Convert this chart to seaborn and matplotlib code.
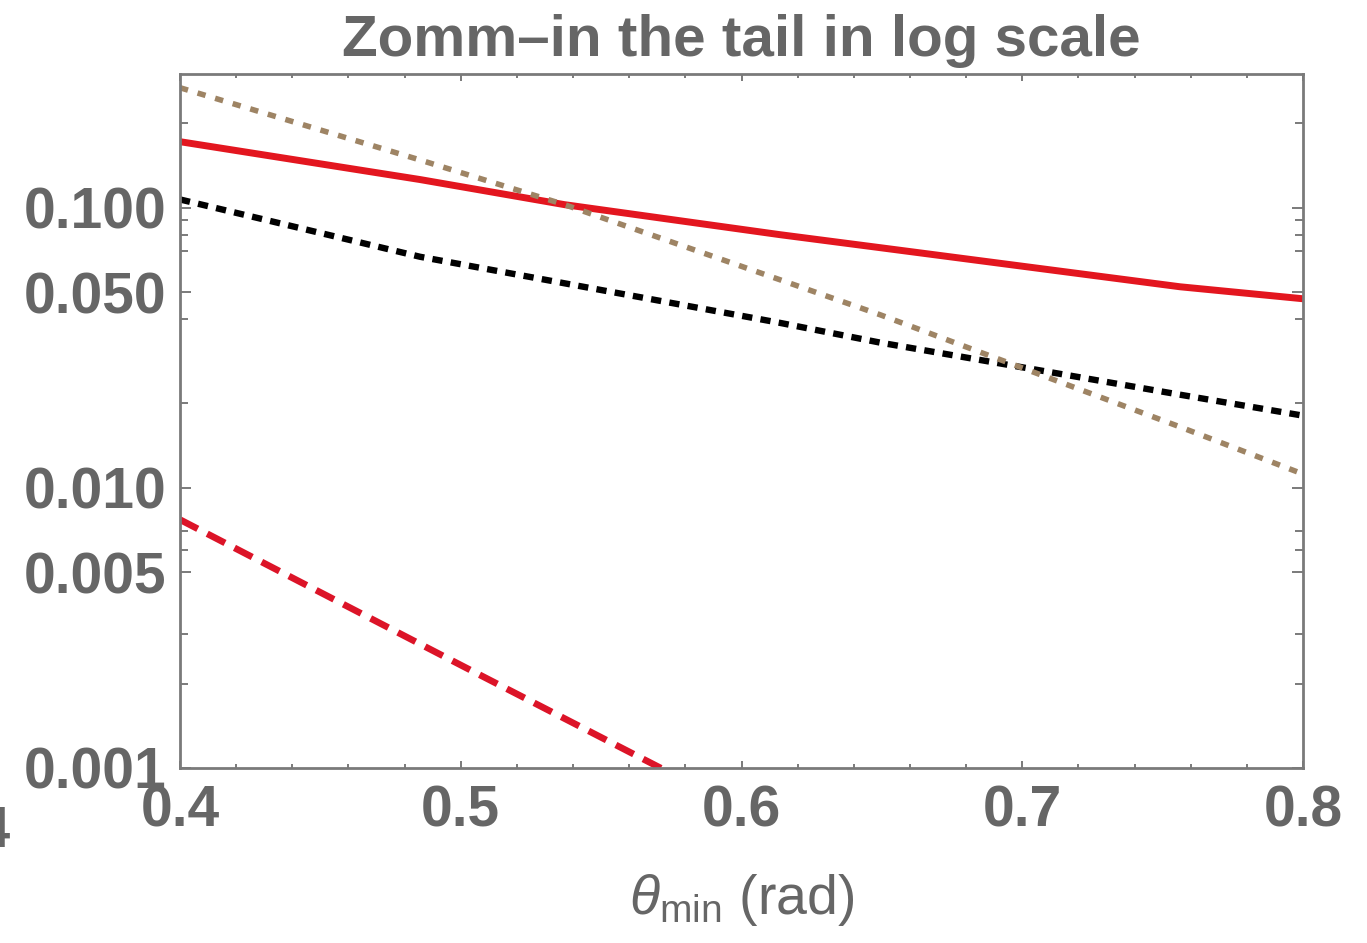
import numpy as np
import pandas as pd
import matplotlib
matplotlib.use("Agg")
import matplotlib.pyplot as plt
import matplotlib.ticker as mticker
import seaborn as sns

# ---- data ----
theta_solid_red = [0.400, 0.4855, 0.537, 0.6137, 0.6493, 0.7562, 0.800]
value_solid_red = [0.172, 0.126, 0.1025, 0.0801, 0.0720, 0.0522, 0.0473]

theta_black_dot = [0.400, 0.4855, 0.6137, 0.6493, 0.7562, 0.800]
value_black_dot = [0.107, 0.0668, 0.0388, 0.0330, 0.0215, 0.0181]

theta_brown_dot = [0.400, 0.4855, 0.537, 0.6137, 0.6493, 0.7562, 0.800]
value_brown_dot = [0.268, 0.148, 0.1025, 0.0553, 0.0415, 0.0165, 0.0112]

theta_red_dash = [0.400, 0.500, 0.600]
value_red_dash = [0.0077, 0.00233, 0.00071]

y_ticks = [0.001, 0.005, 0.010, 0.050, 0.100]
y_minor_ticks = [0.002, 0.003, 0.006, 0.007, 0.02, 0.04, 0.07, 0.08, 0.09, 0.2]
x_ticks = [0.4, 0.5, 0.6, 0.7, 0.8]
title_text = "Zomm\u2013in the tail in log scale"
xlabel_text = r"$\theta_{\mathrm{min}}$ (rad)"
edge_label_text = "0.4"

sns.set_style("ticks")
plt.rcParams['font.family'] = ['Liberation Sans', 'DejaVu Sans']
plt.rcParams['mathtext.fontset'] = 'custom'
plt.rcParams['mathtext.rm'] = 'Liberation Sans'
plt.rcParams['mathtext.it'] = 'Liberation Sans:italic'

GRAY = "#666666"
FRAME = "#7a7a7a"

fig = plt.figure(figsize=(13.67, 9.43), dpi=100)
ax = fig.add_axes([180/1367, 1-768/943, (1303-180)/1367, (768-74)/943])

series = [
    (theta_solid_red, value_solid_red, "#e3161f", None, 5.0),
    (theta_black_dot, value_black_dot, "#000000", (0, (1.6, 1.3)), 4.6),
    (theta_brown_dot, value_brown_dot, "#9e8464", (0, (1.5, 1.8)), 4.0),
    (theta_red_dash, value_red_dash, "#dc1428", (0, (3.0, 1.6)), 4.8),
]
for xs, ys, col, dash, lw in series:
    df = pd.DataFrame({"theta": xs, "value": ys})
    sns.lineplot(data=df, x="theta", y="value", ax=ax, color=col, linewidth=lw,
                 linestyle="-" if dash is None else dash)

ax.set_yscale("log")
ax.set_xlim(0.4, 0.8)
ax.set_ylim(0.001, 0.30)

ax.set_xticks(x_ticks)
ax.set_xticklabels([f"{v:.1f}" for v in x_ticks])
ax.xaxis.set_minor_locator(mticker.MultipleLocator(0.02))
ax.set_yticks(y_ticks)
ax.set_yticklabels([f"{v:.3f}" for v in y_ticks])
ax.yaxis.set_minor_locator(mticker.FixedLocator(y_minor_ticks))
ax.yaxis.set_minor_formatter(mticker.NullFormatter())

for sp in ax.spines.values():
    sp.set_visible(True)
    sp.set_color(FRAME)
    sp.set_linewidth(2.0)

ax.tick_params(axis="both", which="both", direction="in", top=True, right=True,
               color=FRAME, width=1.4)
ax.tick_params(axis="y", which="major", length=8, labelsize=41, pad=10, labelcolor=GRAY)
ax.tick_params(axis="y", which="minor", length=5.5)
ax.tick_params(axis="x", which="major", length=5, labelsize=41, pad=12, labelcolor=GRAY)
ax.tick_params(axis="x", which="minor", length=3)
for lab in ax.get_xticklabels() + ax.get_yticklabels():
    lab.set_fontweight("bold")

ax.set_xlabel(xlabel_text, fontsize=40, color=GRAY, labelpad=24)
ax.set_ylabel("")
ax.set_title(title_text, fontsize=42, fontweight="bold", color=GRAY, pad=13)

# cut-off label from the neighbouring panel at the left edge
fig.text(11/1367, 1-833/943, edge_label_text, ha="right", va="center", fontsize=41,
         fontweight="bold", color=GRAY)

fig.savefig("out.png", dpi=100)
